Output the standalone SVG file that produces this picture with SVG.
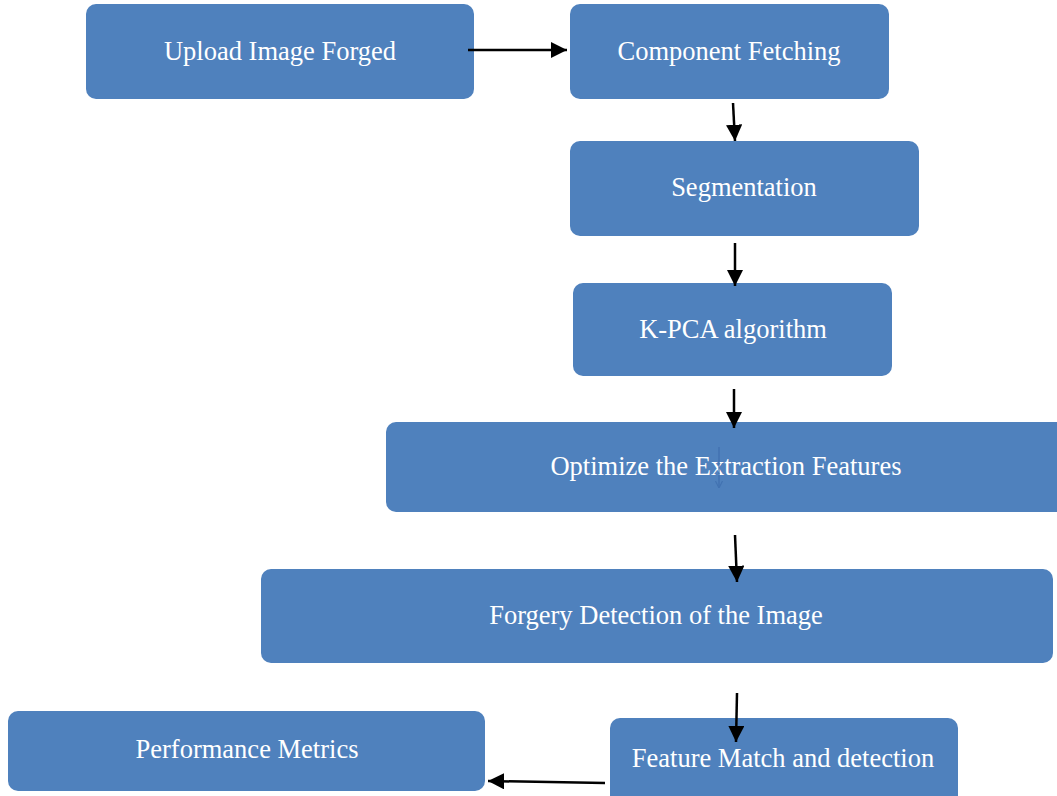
<svg xmlns="http://www.w3.org/2000/svg" width="1057" height="796" viewBox="0 0 1057 796">
<defs>
<style>
.box{fill:#4F81BD;}
.lbl{fill:#FFFFFF;font-family:"Liberation Serif","Times New Roman",serif;font-size:26.5px;text-anchor:middle;dominant-baseline:central;}
.conn{stroke:#000;stroke-width:2.5;fill:none;marker-end:url(#ah);}
</style>
<marker id="ah" viewBox="0 0 10 10" refX="10" refY="5" markerWidth="6.5" markerHeight="6.5" markerUnits="strokeWidth" orient="auto">
<path d="M0,0 L10,5 L0,10 z" fill="#000"/>
</marker>
<marker id="ahb" viewBox="0 0 10 10" refX="10" refY="5" markerWidth="5" markerHeight="5" orient="auto">
<path d="M0,0 L10,5 L0,10" fill="none" stroke="#3F6FAF" stroke-width="1.5"/>
</marker>
</defs>
<rect width="1057" height="796" fill="#FFFFFF"/>
<g id="n1"><rect class="box" x="86" y="4" width="388" height="95" rx="10"/><text class="lbl" x="280" y="51">Upload Image Forged</text></g>
<g id="n2"><rect class="box" x="570" y="4" width="319" height="95" rx="10"/><text class="lbl" x="729" y="51">Component Fetching</text></g>
<g id="n3"><rect class="box" x="570" y="141" width="349" height="95" rx="10"/><text class="lbl" x="744" y="187">Segmentation</text></g>
<g id="n4"><rect class="box" x="573" y="283" width="319" height="93" rx="10"/><text class="lbl" x="733" y="329">K-PCA algorithm</text></g>
<g id="n5"><rect class="box" x="386" y="422" width="690" height="90" rx="10"/><text class="lbl" x="726" y="466">Optimize the Extraction Features</text></g>
<g id="n6"><rect class="box" x="261" y="569" width="792" height="94" rx="10"/><text class="lbl" x="656" y="615">Forgery Detection of the Image</text></g>
<g id="n7"><rect class="box" x="8" y="711" width="477" height="80" rx="10"/><text class="lbl" x="247" y="749">Performance Metrics</text></g>
<g id="n8"><rect class="box" x="610" y="718" width="348" height="95" rx="10"/><text class="lbl" x="783" y="758">Feature Match and detection</text></g>
<g id="connectors">
<line class="conn" x1="468" y1="50" x2="567" y2="50"/>
<line class="conn" x1="733" y1="103" x2="735" y2="141"/>
<line class="conn" x1="735" y1="243" x2="735" y2="286"/>
<line class="conn" x1="734" y1="389" x2="734" y2="428"/>
<line class="conn" x1="735" y1="535" x2="737" y2="582"/>
<line class="conn" x1="737" y1="693" x2="736" y2="742"/>
<line class="conn" x1="605" y1="783" x2="488" y2="781"/>
<line x1="719" y1="447" x2="719" y2="488" stroke="#3F6FAF" stroke-width="1.5" marker-end="url(#ahb)" opacity="0.8"/>
</g>
</svg>
